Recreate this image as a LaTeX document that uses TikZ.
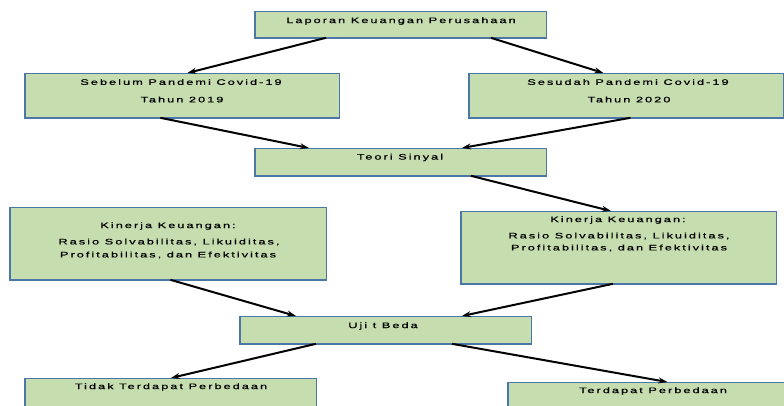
\documentclass[tikz,border=0pt]{standalone}
\usepackage{fontspec}
\setmainfont{Liberation Sans}
\newfontfamily\bxfont{Liberation Sans}[FakeStretch=1.6,LetterSpace=25,FakeBold=0.8]
\usetikzlibrary{arrows.meta,calc}
\definecolor{boxfill}{RGB}{198,221,176}
\definecolor{edgeblue}{RGB}{74,118,168}
\begin{document}
\begin{tikzpicture}[x=1pt,y=-1pt,
  box/.style={fill=boxfill,draw=edgeblue,line width=0.8pt,inner sep=0pt,anchor=north west},
  lbl/.style={font=\bxfont\fontsize{8}{9}\selectfont,text=black,inner sep=0pt,anchor=center},
  arr/.style={-{Stealth[length=9pt,width=6pt]},line width=2pt,black}]
\useasboundingbox (0,0) rectangle (784,405);
\clip (0,0) rectangle (784,405);
% boxes
\node[box,minimum width=291pt,minimum height=26pt] (b1) at (255,11) {};
\node[box,minimum width=314pt,minimum height=44pt] (b2) at (25,73) {};
\node[box,minimum width=314pt,minimum height=44pt] (b3) at (469,73) {};
\node[box,minimum width=291pt,minimum height=27pt] (b4) at (255,148) {};
\node[box,minimum width=316pt,minimum height=72pt] (b5) at (10,207) {};
\node[box,minimum width=315pt,minimum height=72pt] (b6) at (461,211) {};
\node[box,minimum width=291pt,minimum height=27pt] (b7) at (240,316) {};
\node[box,minimum width=291pt,minimum height=34pt] (b8) at (25,378) {};
\node[box,minimum width=290pt,minimum height=34pt] (b9) at (508,382) {};
\foreach \n in {b1,b2,b3,b4,b5,b6,b7,b8,b9}
  \draw[edgeblue,line width=1.6pt] (\n.north west) -- (\n.south west) -- (\n.south east);
% texts
\node[lbl] (t1) at (401,21) {Laporan Keuangan Perusahaan};
\node[lbl] (t2a) at (181,82) {Sebelum Pandemi Covid-19};
\node[lbl] (t2b) at (182,99.5) {Tahun 2019};
\node[lbl] (t3a) at (628,82) {Sesudah Pandemi Covid-19};
\node[lbl] (t3b) at (629,99.5) {Tahun 2020};
\node[lbl] (t4) at (400,157.5) {Teori Sinyal};
\node[lbl] (t5a) at (168,226) {Kinerja Keuangan:};
\node[lbl] (t5b) at (169,242) {Rasio Solvabilitas, Likuiditas,};
\node[lbl] (t5c) at (168,255) {Profitabilitas, dan Efektivitas};
\node[lbl] (t6a) at (618,220) {Kinerja Keuangan:};
\node[lbl] (t6b) at (619,236) {Rasio Solvabilitas, Likuiditas,};
\node[lbl] (t6c) at (619,248) {Profitabilitas, dan Efektivitas};
\node[lbl] (t7) at (383,326) {Uji t Beda};
\node[lbl] (t8) at (171,387) {Tidak Terdapat Perbedaan};
\node[lbl] (t9) at (653,391) {Terdapat Perbedaan};
% connectors
\draw[arr] ([xshift=-75pt]b1.south) -- ([xshift=5pt]b2.north);
\draw[arr] ([xshift=90pt]b1.south) -- ([xshift=-23pt]b3.north);
\draw[arr] ([xshift=-22pt]b2.south) -- ([xshift=-92pt]b4.north);
\draw[arr] ([xshift=4pt]b3.south) -- ([xshift=61pt]b4.north);
\draw[arr] ([xshift=70pt]b4.south) -- ([xshift=-8pt]b6.north);
\draw[arr] ([xshift=2pt]b5.south) -- ([xshift=-90pt]b7.north);
\draw[arr] ([xshift=-6pt]b6.south) -- ([xshift=76pt]b7.north);
\draw[arr] ([xshift=-70pt]b7.south) -- ([xshift=0pt]b8.north);
\draw[arr] ([xshift=66pt]b7.south) -- ([xshift=14pt]b9.north);
\end{tikzpicture}
\end{document}
